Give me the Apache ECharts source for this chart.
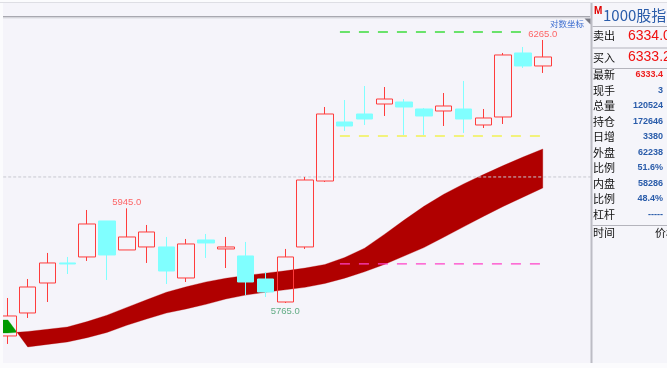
<!DOCTYPE html>
<html><head><meta charset="utf-8">
<script src="https://cdn.jsdelivr.net/npm/echarts@6/dist/echarts.min.js"></script>
<style>html,body{margin:0;padding:0;background:#f5f4fa}#c{width:667px;height:368px}</style>
</head><body><div id="c"></div>
<script>
// ---- data ----
const categories = ['0','1','2','3','4','5','6','7','8','9','10','11','12','13','14','15','16','17','18','19','20','21','22','23','24','25','26','27','28','29','30'];
const opens  = [5702.3,5746.0,5803.0,5841.1,5852.5,5920.9,5865.8,5871.5,5871.5,5812.5,5884.8,5867.7,5854.4,5810.6,5766.9,5871.5,5996.9,6109.1,6124.3,6143.3,6147.1,6133.8,6130.0,6133.8,6103.4,6118.6,6240.3,6215.6];
const closes = [5740.3,5795.4,5841.1,5839.2,5915.2,5856.3,5890.5,5900.0,5825.8,5877.2,5879.1,5871.5,5804.9,5785.9,5852.5,5998.8,6124.3,6101.5,6114.8,6152.8,6137.6,6120.5,6139.5,6114.8,6116.7,6236.5,6215.6,6232.7];
const lows   = [5687.1,5736.5,5766.9,5820.1,5844.9,5808.7,5865.8,5841.1,5801.1,5804.9,5850.6,5831.5,5780.2,5776.4,5765.0,5867.7,5995.0,6092.0,6103.4,6120.5,6080.6,6082.5,6101.5,6088.2,6097.7,6105.3,6211.8,6202.3];
const highs  = [5774.5,5810.6,5860.1,5852.5,5941.8,5920.9,5945.0,5913.3,5890.5,5886.7,5896.2,5890.5,5881.0,5823.9,5867.7,6004.6,6137.6,6150.9,6177.5,6175.6,6152.8,6135.7,6164.2,6187.1,6133.8,6240.3,6251.7,6265.0];
// ribbon lines (index 0 = bar just off the left edge)
const ribbonA = [5708.0,5708.0,5710.8,5715.0,5719.4,5729.6,5741.8,5756.6,5771.1,5785.5,5795.8,5805.1,5812.0,5817.3,5821.7,5826.2,5831.4,5838.2,5851.5,5869.2,5895.4,5922.6,5948.8,5971.7,5991.4,6009.1,6026.2,6042.4,6057.8];
const ribbonB = [5732.7,5732.7,5681.4,5686.3,5690.9,5699.0,5708.9,5722.6,5734.6,5745.8,5753.8,5762.4,5772.6,5780.0,5785.5,5790.1,5794.7,5802.1,5812.2,5824.3,5838.2,5854.2,5870.3,5889.9,5909.7,5929.5,5948.5,5966.1,5983.6];
// horizontal levels: [price, startPos, endPos] (positions in bar units)
const levelGreen  = [6280.2, 18.26, 27.70];
const levelYellow = [6082.5, 18.26, 28.76];
const levelPink   = [5839.2, 18.26, 28.76];
const levelGray   = [6004.6, 0, 31];
// marked extremes
const markHigh1 = ['28', 6265.0];
const markHigh2 = ['7', 5945.0];
const markLow   = ['15', 5765.0];
// right panel
const quoteTitle = '1000股指';
const sellLabel = '卖出', sellPrice = '6334.0';
const buyLabel = '买入', buyPrice = '6333.2';
const panelLabels = ['最新','现手','总量','持仓','日增','外盘','比例','内盘','比例','杠杆'];
const panelValues = ['6333.4','3','120524','172646','3380','62238','51.6%','58286','48.4%','-----'];

// ---- build ----
const candleData = categories.map((c, i) => (i >= 1 && i <= opens.length) ? [opens[i-1], closes[i-1], lows[i-1], highs[i-1]] : '-');
const RED_BAND = '#b00000', GREEN_BAND = '#009a00';
function ribbonItem(params, api) {
  const n = ribbonA.length;
  const children = [];
  let up = [], lo = [];
  let sign = (ribbonA[0] - ribbonB[0]) >= 0 ? 1 : -1;
  const flush = () => {
    const pts = up.concat(lo.slice().reverse());
    const col = sign > 0 ? RED_BAND : GREEN_BAND;
    children.push({ type: 'polygon', shape: { points: pts }, style: { fill: col, stroke: col, lineWidth: 0.3 } });
  };
  for (let k = 0; k < n; k++) {
    up.push(api.coord([k + 0.5, ribbonA[k]]));
    lo.push(api.coord([k + 0.5, ribbonB[k]]));
    if (k < n - 1) {
      const d0 = ribbonA[k] - ribbonB[k], d1 = ribbonA[k+1] - ribbonB[k+1];
      if (d0 * d1 < 0) {
        const t = d0 / (d0 - d1);
        const pC = api.coord([k + 0.5 + t, ribbonA[k] + t * (ribbonA[k+1] - ribbonA[k])]);
        up.push(pC); lo.push(pC);
        flush();
        sign = d1 > 0 ? 1 : -1;
        up = [pC]; lo = [pC];
      }
    }
  }
  flush();
  return { type: 'group', children };
}
function levelSeries(lv, color, width, dash, z) {
  return { type: 'line', xAxisIndex: 1, yAxisIndex: 0, symbol: 'none', silent: true, z,
    data: [[lv[1], lv[0]], [lv[2], lv[0]]],
    lineStyle: { color, width, type: dash } };
}
const chart = echarts.init(document.getElementById('c'), null, { renderer: 'canvas' });
const FONT = "'Liberation Sans', Arial, sans-serif";
const CJK = "'Noto Sans CJK SC', sans-serif";
const graphics = [
  { type: 'rect', z: 100, shape: { x: 0, y: 0, width: 3, height: 368 }, style: { fill: '#fbfbfd' } },
  { type: 'rect', z: 100, shape: { x: 0, y: 0, width: 667, height: 2 }, style: { fill: '#fbfbfd' } },
  { type: 'rect', z: 100, shape: { x: 0, y: 2, width: 667, height: 1 }, style: { fill: '#dedee4' } },
  { type: 'rect', z: 100, shape: { x: 0, y: 363, width: 667, height: 5 }, style: { fill: '#fbfbfd' } },
  { type: 'rect', z: 100, shape: { x: 3, y: 16, width: 587, height: 1.5 }, style: { fill: '#a8a8b0' } },
  { type: 'rect', z: 100, shape: { x: 3, y: 17.5, width: 587, height: 1 }, style: { fill: '#dcdce2' } },
  { type: 'rect', z: 100, shape: { x: 590.5, y: 3, width: 2, height: 360 }, style: { fill: '#bcbcc4' } },
  { type: 'rect', z: 99, shape: { x: 592.5, y: 3, width: 75, height: 360 }, style: { fill: '#f5f5fa' } },
  { type: 'polygon', z: 100, shape: { points: [[584.5, 18.5], [590.5, 18.5], [590.5, 24.5]] }, style: { fill: '#7a7a84' } },
  { type: 'text', z: 100, x: 584, y: 24, style: { text: '对数坐标', fill: '#3f6fd0', font: '8.5px ' + CJK, textAlign: 'right', textVerticalAlign: 'middle' } },
  { type: 'text', z: 100, x: 594, y: 11, style: { text: 'M', fill: '#e00000', font: 'bold 10px ' + FONT, textAlign: 'left', textVerticalAlign: 'middle' } },
  { type: 'text', z: 100, x: 603, y: 15.5, style: { text: quoteTitle, fill: '#2a5caa', font: '15px ' + CJK, textAlign: 'left', textVerticalAlign: 'middle' } },
  { type: 'text', z: 100, x: 593, y: 36, style: { text: sellLabel, fill: '#111', font: '11px ' + CJK, textAlign: 'left', textVerticalAlign: 'middle' } },
  { type: 'text', z: 100, x: 628, y: 36, style: { text: sellPrice, fill: '#f01010', font: '14px ' + FONT, textAlign: 'left', textVerticalAlign: 'middle' } },
  { type: 'text', z: 100, x: 593, y: 57.5, style: { text: buyLabel, fill: '#111', font: '11px ' + CJK, textAlign: 'left', textVerticalAlign: 'middle' } },
  { type: 'text', z: 100, x: 628, y: 57.5, style: { text: buyPrice, fill: '#f01010', font: '14px ' + FONT, textAlign: 'left', textVerticalAlign: 'middle' } },
  { type: 'text', z: 100, x: 593, y: 233, style: { text: '时间', fill: '#111', font: '11px ' + CJK, textAlign: 'left', textVerticalAlign: 'middle' } },
  { type: 'text', z: 100, x: 655, y: 233, style: { text: '价格', fill: '#111', font: '11px ' + CJK, textAlign: 'left', textVerticalAlign: 'middle' } }
];
[26, 47.5, 68, 225].forEach(y => graphics.push({ type: 'rect', z: 100, shape: { x: 592.5, y: y, width: 75, height: 1 }, style: { fill: '#b4b4bc' } }));
panelLabels.forEach((lab, i) => {
  const y = 75 + i * 15.5;
  graphics.push({ type: 'text', z: 100, x: 593, y, style: { text: lab, fill: '#111', font: '11px ' + CJK, textAlign: 'left', textVerticalAlign: 'middle' } });
  graphics.push({ type: 'text', z: 100, x: 663, y, style: { text: panelValues[i], fill: i === 0 ? '#ee2020' : '#2a5caa', font: 'bold 9px ' + FONT, textAlign: 'right', textVerticalAlign: 'middle' } });
});

chart.setOption({
  animation: false,
  backgroundColor: '#f5f4fa',
  grid: { left: -21.8, top: 18, width: 614.1, height: 345, containLabel: false, outerBoundsMode: 'none' },
  xAxis: [
    { type: 'category', data: categories, show: false, boundaryGap: true },
    { type: 'value', min: 0, max: 31, show: false, position: 'top' }
  ],
  yAxis: [{ type: 'value', min: 5650.9, max: 6306.8, show: false, scale: true }],
  series: [
    { type: 'custom', xAxisIndex: 1, yAxisIndex: 0, renderItem: ribbonItem, data: [[0.5, ribbonA[0]]], z: 1, silent: true, clip: false, encode: { x: 0, y: 1 } },
    levelSeries(levelGray, '#c8c8d0', 1, [3, 2], 1),
    { type: 'candlestick', xAxisIndex: 0, yAxisIndex: 0, data: candleData, barWidth: 17, z: 3,
      itemStyle: { color: 'rgba(0,0,0,0)', color0: '#80ffff', borderColor: '#ff3c3c', borderColor0: '#80ffff', borderWidth: 1 } },
    levelSeries(levelGreen, '#3ddc3d', 1.3, [10, 9], 5),
    levelSeries(levelYellow, '#f2f27c', 2, [10, 9], 5),
    levelSeries(levelPink, '#ff40c8', 1.3, [10, 9], 5),
    { type: 'scatter', xAxisIndex: 0, yAxisIndex: 0, symbolSize: 1, z: 6, silent: true,
      itemStyle: { color: 'rgba(0,0,0,0)' },
      label: { show: true, fontSize: 9.5, fontFamily: 'Liberation Sans, Arial', formatter: p => p.value[1].toFixed(1) },
      data: [
        { value: markHigh1, label: { position: 'top', distance: 0, color: '#ff4040' } },
        { value: markHigh2, label: { position: 'top', distance: 0, color: '#ff4040' } },
        { value: markLow, label: { position: 'bottom', distance: 3, color: '#3c9a66' } }
      ] }
  ],
  graphic: { elements: graphics }
});
</script></body></html>
